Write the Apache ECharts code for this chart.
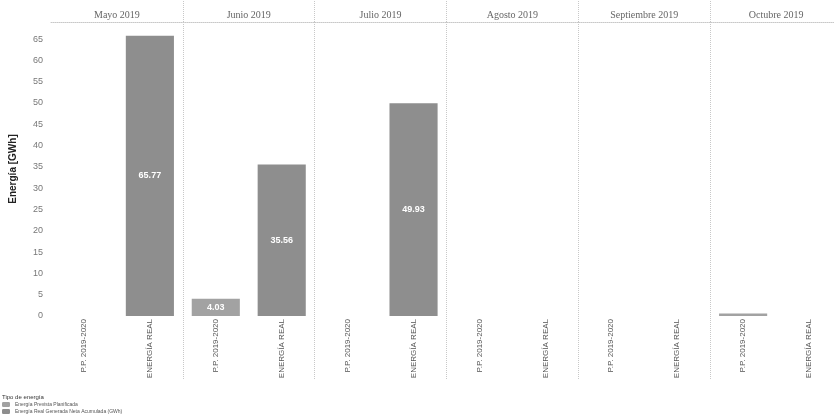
<!DOCTYPE html>
<html>
<head>
<meta charset="utf-8">
<script src="https://cdn.jsdelivr.net/npm/echarts@6/dist/echarts.min.js"></script>
<style>
html,body{margin:0;padding:0;background:#fff;overflow:hidden;width:834px;height:416px;}
#c{width:852px;height:416px;}
</style>
</head>
<body>
<div id="c"></div>
<script>
const months = ['Mayo 2019','Junio 2019','Julio 2019','Agosto 2019','Septiembre 2019','Octubre 2019'];
const categories = ['P.P. 2019-2020','ENERGÍA REAL','P.P. 2019-2020','ENERGÍA REAL','P.P. 2019-2020','ENERGÍA REAL','P.P. 2019-2020','ENERGÍA REAL','P.P. 2019-2020','ENERGÍA REAL','P.P. 2019-2020','ENERGÍA REAL'];
const ppValues   = [null, null, 4.03, null, null, null, null, null, null, null, 0.6, null];
const realValues = [null, 65.77, null, 35.56, null, 49.93, null, null, null, null, null, null];
const seriesNames = ['Energía Prevista Planificada', 'Energía Real Generada Neta Acumulada (GWh)'];
const yTicks = {min: 0, max: 69, interval: 5};

const chart = echarts.init(document.getElementById('c'), null, {renderer:'canvas'});
const lbl = {show:true, position:'inside', color:'#fff', fontSize:9, fontWeight:'bold',
  formatter: p => (p.value == null || p.value < 2 ? '' : p.value.toFixed(2))};
chart.setOption({
  backgroundColor:'#fff',
  animation:false,
  title:{text:'Tipo de energía', left:2, top:394, padding:0, textStyle:{fontSize:6, color:'#333', fontWeight:'normal', fontFamily:'Liberation Sans'}},
  legend:{orient:'vertical', left:2, top:402, height:20, padding:0, itemWidth:8, itemHeight:5, itemGap:2,
    textStyle:{fontSize:5, color:'#555', fontFamily:'Liberation Sans'}, data:seriesNames},
  grid:{left:50, right:10, top:22, bottom:100, containLabel:false},
  xAxis:[{
    type:'category', data:categories, gridIndex:0, position:'bottom',
    axisLine:{show:false},
    axisTick:{show:true, length:64, interval:(i)=> i%2===0 && i>0, lineStyle:{color:'#c8c8c8', type:'dotted'}},
    splitLine:{show:true, interval:(i)=> i%2===0 && i>0, lineStyle:{color:'#c8c8c8', type:'dotted'}},
    axisLabel:{rotate:90, fontSize:8, color:'#555', margin:3, interval:0, fontFamily:'Liberation Sans'}
  },{
    type:'category', data:months, gridIndex:0, position:'top',
    axisLine:{show:true, lineStyle:{color:'#c8c8c8', type:'dotted'}},
    axisTick:{show:true, length:22, interval:(i)=> i>0, lineStyle:{color:'#c8c8c8', type:'dotted'}},
    axisLabel:{fontSize:10, color:'#666', margin:2, interval:0, fontFamily:'Liberation Serif'}
  }],
  yAxis:{
    type:'value', min:yTicks.min, max:yTicks.max, interval:yTicks.interval,
    name:'Energía [GWh]', nameLocation:'middle', nameGap:33,
    nameTextStyle:{fontSize:10, color:'#222', fontWeight:'bold', fontFamily:'Liberation Sans'},
    axisLine:{show:false}, axisTick:{show:false}, splitLine:{show:false},
    axisLabel:{fontSize:9, color:'#777', margin:8, showMaxLabel:false, fontFamily:'Liberation Sans'}
  },
  series:[
    {name:seriesNames[0], type:'bar', stack:'e', data:ppValues, barWidth:'73%',
      itemStyle:{color:'#a2a2a2'}, label:lbl, clip:false},
    {name:seriesNames[1], type:'bar', stack:'e', data:realValues, barWidth:'73%',
      itemStyle:{color:'#8e8e8e'}, label:lbl, clip:false}
  ]
});
</script>
</body>
</html>
